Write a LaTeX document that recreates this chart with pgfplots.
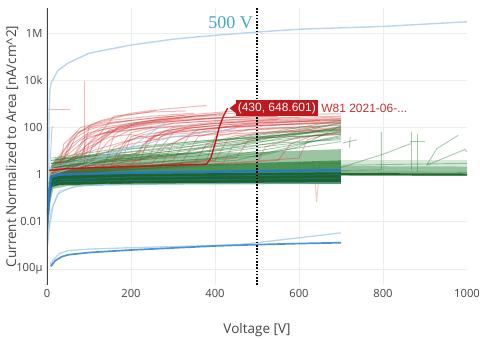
\documentclass[border=0pt]{standalone}
\usepackage{fontspec}
\setmainfont{Open Sans}
\newfontfamily\annfont{Liberation Sans}
\newfontfamily\serfont{Liberation Serif}
\usepackage{pgfplots}
\pgfplotsset{compat=1.18}
\definecolor{pred}{RGB}{205,45,45}
\definecolor{hred}{RGB}{190,25,30}
\definecolor{pgreen}{RGB}{35,125,50}
\definecolor{dgreen}{RGB}{22,95,38}
\definecolor{pblue}{RGB}{35,120,205}
\definecolor{plblue}{RGB}{150,195,235}
\definecolor{tblue}{RGB}{185,213,240}
\definecolor{tealv}{RGB}{70,168,190}
\definecolor{tickgray}{RGB}{68,68,68}
\pgfplotsset{
  rl/.style={color=pred, opacity=0.33, line width=1pt, no markers},
  gl/.style={color=pgreen, opacity=0.4, line width=0.9pt, no markers},
  bl/.style={color=pblue, opacity=0.5, line width=0.8pt, no markers},
  lbl/.style={color=plblue, opacity=0.7, line width=1pt, no markers},
}
\begin{document}
\begin{tikzpicture}
\useasboundingbox (-47pt,-53pt) rectangle (433pt,285pt);
\begin{axis}[
  at={(0,0)}, anchor=south west,
  scale only axis, width=420pt, height=277pt,
  xmin=0, xmax=1000,
  ymode=log, ymin=2.1e-5, ymax=1.15e7,
  axis line style={draw=none},
  xtick={0,200,400,600,800}, extra x ticks={1000},
  extra x tick style={grid=none},
  ytick={1e-4,1e-2,1,100,1e4,1e6},
  yticklabels={100µ,0.01,1,100,10k,1M},
  minor tick num=0, yminorticks=false,
  major tick length=0pt,
  grid=major,
  major grid style={color=black!7, line width=0.9pt},
  /pgf/number format/assume math mode=true,
  /pgf/number format/1000 sep={},
  ticklabel style={font=\fontsize{11.2}{13}\selectfont, text=tickgray},
  yticklabel style={xshift=-1pt},
  xticklabel style={yshift=-1pt},
  xlabel={Voltage [V]},
  ylabel={Current Normalized to Area [nA/cm\textasciicircum 2]},
  label style={font=\fontsize{13.5}{15}\selectfont, text=tickgray},
  xlabel style={at={(axis description cs:0.5,0)}, anchor=base, yshift=-48pt},
  ylabel style={at={(axis description cs:-0.0833,0.5)}, anchor=center},
]
% ---- light green band (0-700 V)
\addplot[fill=pgreen, draw=none, fill opacity=0.45] coordinates {(4,0.5)(8,2)(20,5)(100,7)(300,8)(500,9)(700,12)(700,0.4)(300,0.38)(50,0.33)(15,0.25)(6,0.05)(3,0.005)(2,0.001)};
% ---- red curves
\addplot[rl] coordinates {(10,1)(30,3)(60,20)(100,60)(200,150)(300,250)(400,350)};
\addplot[rl] coordinates {(10,1)(50,2)(80,10)(120,50)(200,120)(350,300)(450,400)};
\addplot[rl] coordinates {(20,1.5)(100,3)(150,30)(200,80)(300,150)(500,250)(700,300)};
\addplot[rl] coordinates {(10,0.8)(150,2)(200,5)(250,40)(350,100)(500,160)(700,200)};
\addplot[rl] coordinates {(15,1)(60,5)(90,40)(130,100)(250,200)(350,300)};
\addplot[rl] coordinates {(10,1)(200,3)(260,8)(300,60)(450,120)(650,200)};
\addplot[rl] coordinates {(30,2)(100,10)(150,70)(250,150)(400,250)(550,300)};
\addplot[rl] coordinates {(10,1)(300,4)(340,50)(420,100)(600,150)(700,180)};
\addplot[rl] coordinates {(20,2)(120,20)(170,100)(300,300)(450,500)(560,600)};
\addplot[rl] coordinates {(10,0.7)(80,1)(100,20)(150,60)(250,100)};
\addplot[rl] coordinates {(5,1)(250,3)(280,15)(330,40)(500,90)(700,120)};
\addplot[rl] coordinates {(10,1)(400,4)(430,30)(500,60)(700,100)};
\addplot[rl] coordinates {(10,1.5)(50,8)(70,50)(110,150)(180,300)(280,600)(380,850)};
\addplot[rl] coordinates {(10,1)(180,5)(200,40)(260,90)(400,170)(550,220)};
\addplot[rl] coordinates {(10,1)(450,5)(480,30)(560,60)(700,90)};
\addplot[rl] coordinates {(20,1)(230,10)(260,60)(350,120)(500,200)(700,280)};
\addplot[rl] coordinates {(10,2)(100,5)(200,20)(300,40)(500,60)(700,80)};
\addplot[rl] coordinates {(10,1)(130,2)(160,15)(220,40)(400,70)(650,100)};
\addplot[rl] coordinates {(20,3)(100,15)(150,40)(200,50)(260,30)(300,80)(400,120)};
\addplot[rl] coordinates {(10,1)(350,3)(380,20)(450,45)(600,70)(700,80)};
\addplot[rl] coordinates {(15,2)(40,10)(60,30)(100,80)(150,150)(250,250)(330,330)};
\addplot[rl] coordinates {(10,1)(550,4)(580,20)(640,50)(700,60)};
\addplot[rl] coordinates {(10,1.5)(300,6)(400,20)(500,35)(700,50)};
\addplot[rl] coordinates {(30,1)(80,3)(100,100)(130,150)(200,200)};
\addplot[rl] coordinates {(10,1)(60,1.5)(70,8)(90,30)(140,60)(220,90)(320,120)};
\addplot[rl] coordinates {(10,1)(110,3)(130,30)(170,100)(230,180)(330,260)(420,330)};
\addplot[rl] coordinates {(10,1)(200,2)(230,20)(280,70)(380,140)(500,190)(700,240)};
\addplot[rl] coordinates {(10,2)(50,20)(80,70)(130,200)(200,400)(260,550)};
\addplot[rl] coordinates {(10,1)(500,3)(520,15)(600,40)(700,55)};
\addplot[rl] coordinates {(10,1)(320,3)(360,40)(450,100)(600,140)(700,150)};
\addplot[rl] coordinates {(10,1)(70,2)(90,15)(120,40)(160,300)(250,450)(330,500)};
\addplot[rl] coordinates {(10,1)(150,2)(170,10)(200,60)(300,150)(420,200)(600,260)};
\addplot[rl] coordinates {(10,1)(40,4)(55,30)(80,100)(150,200)(250,300)(350,400)};
\addplot[rl] coordinates {(10,1)(90,2)(110,20)(150,80)(250,160)(400,250)(550,300)};
\addplot[rl] coordinates {(10,1.2)(220,3)(240,30)(300,100)(400,150)(600,200)(700,230)};
\addplot[rl] coordinates {(10,1)(270,2)(300,20)(360,80)(500,150)(700,200)};
\addplot[rl] coordinates {(10,1)(380,4)(400,40)(480,80)(700,130)};
\addplot[rl] coordinates {(10,2)(60,10)(100,40)(200,100)(300,180)(450,280)(600,350)(700,380)};
\addplot[rl] coordinates {(10,1.5)(140,4)(160,50)(200,120)(300,250)(420,400)};
\addplot[rl] coordinates {(10,1)(30,2)(40,20)(70,60)(120,120)(200,200)(300,300)};
\addplot[rl] coordinates {(10,1)(600,5)(620,30)(680,60)(700,70)};
\addplot[rl] coordinates {(10,1)(160,3)(190,25)(230,50)(300,70)(450,110)(700,160)};
\addplot[rl] coordinates {(30,5)(80,30)(130,80)(220,150)(320,220)(450,280)};
\addplot[rl] coordinates {(10,1)(240,5)(270,40)(330,90)(420,130)(520,160)(700,220)};
\addplot[rl] coordinates {(20,2)(70,6)(120,12)(200,30)(300,60)(450,110)(700,170)};
\addplot[rl] coordinates {(10,1)(420,3)(440,15)(520,40)(650,70)};
\addplot[rl] coordinates {(90,3)(90,9000)};
\addplot[rl] coordinates {(0,600)(55,600)};
\addplot[rl, opacity=0.25] coordinates {(600,3)(635,3)(642,0.07)(650,3)(700,3)};
% ---- green curves above band
\addplot[gl] coordinates {(10,2)(200,5)(400,15)(700,60)};
\addplot[gl] coordinates {(10,3)(300,10)(500,30)(700,100)};
\addplot[gl] coordinates {(10,1.5)(400,5)(600,20)(700,40)};
\addplot[gl] coordinates {(10,2)(250,8)(450,20)(700,150)};
\addplot[gl] coordinates {(20,3)(150,10)(350,25)(700,70)};
\addplot[gl] coordinates {(10,2)(500,6)(600,15)(700,120)};
\addplot[gl] coordinates {(10,4)(200,12)(500,40)(700,80)};
\addplot[gl] coordinates {(10,1.2)(300,3)(550,10)(700,25)};
\addplot[gl] coordinates {(10,3)(100,6)(300,15)(500,50)(700,200)};
\addplot[gl] coordinates {(10,2)(350,8)(550,40)(700,90)};
\addplot[gl] coordinates {(10,5)(200,15)(400,30)(700,50)};
\addplot[gl] coordinates {(10,1.5)(450,4)(650,30)(700,45)};
\addplot[gl] coordinates {(10,3)(250,6)(450,12)(600,35)(700,65)};
\addplot[gl] coordinates {(10,2)(150,4)(350,9)(550,22)(700,30)};
\addplot[gl] coordinates {(10,3)(300,12)(500,45)(650,110)(700,160)};
\addplot[gl] coordinates {(10,2)(400,10)(600,50)(700,110)};
\addplot[gl] coordinates {(10,4)(200,9)(400,20)(600,60)(700,75)};
\addplot[gl] coordinates {(10,2.5)(350,6)(550,18)(700,35)};
\addplot[gl] coordinates {(1,0.002)(3,0.05)(8,0.5)(20,0.8)(700,1.0)};
\addplot[gl] coordinates {(1,0.003)(2,0.3)(6,0.8)(100,1.2)(700,1.5)};
% ---- green beyond 700 V
\addplot[fill=pgreen, draw=none, fill opacity=0.18] coordinates {(700,4)(1000,4)(1000,0.9)(700,0.9)};
\addplot[fill=pgreen, draw=none, fill opacity=0.35] coordinates {(700,2.3)(1000,2.2)(1000,0.9)(700,0.9)};
\addplot[gl] coordinates {(700,1.5)(796,1.6)(796,65)};
\addplot[gl] coordinates {(700,2)(805,7.8)(864,20)(867,20)};
\addplot[gl] coordinates {(867,1.5)(867,65)};
\addplot[gl] coordinates {(883,1.3)(883,55)};
\addplot[gl] coordinates {(864,25)(900,25)};
\addplot[gl] coordinates {(904,2.5)(928,12.6)(979,46)};
\addplot[gl] coordinates {(904,2.5)(990,10.7)(995,12)(1000,9)};
\addplot[gl] coordinates {(705,22)(738,30)};
\addplot[gl] coordinates {(720,14)(722,40)};
\addplot[gl] coordinates {(700,1.3)(1000,1.25)};
\addplot[gl] coordinates {(700,2.5)(1000,3)};
\addplot[color=dgreen, opacity=0.9, line width=2.2pt] coordinates {(700,1.05)(1000,1.0)};
% ---- dense core band
\addplot[fill=pgreen, draw=none, fill opacity=0.7] coordinates {(8,1)(50,1.6)(200,2.2)(400,2.8)(700,4)(700,0.42)(200,0.4)(30,0.36)(12,0.3)(6,0.08)(3,0.01)};
\addplot[fill=dgreen, draw=none, fill opacity=0.9] coordinates {(10,0.9)(100,1.05)(400,1.15)(700,1.25)(700,0.43)(200,0.41)(30,0.37)(12,0.3)(6,0.1)};
% ---- blue curves
\addplot[lbl] coordinates {(2,0.001)(5,0.005)(15,0.05)(30,0.2)(80,0.35)(200,0.4)(700,0.45)};
\addplot[lbl] coordinates {(3,0.003)(10,0.03)(25,0.15)(60,0.3)(150,0.4)};
\addplot[lbl] coordinates {(5,1)(8,5)(12,100)(15,110)};
\addplot[lbl] coordinates {(10,1)(100,3)(200,15)(280,150)};
\addplot[lbl] coordinates {(10,2)(150,8)(300,40)(450,90)};
\addplot[bl] coordinates {(2,0.01)(8,0.2)(20,0.6)(200,0.8)(700,1.0)};
\addplot[bl] coordinates {(2,0.005)(10,0.3)(30,0.5)(300,0.6)(700,0.7)};
\addplot[color=pblue, opacity=0.9, line width=2.4pt] coordinates {(2,0.02)(5,0.2)(10,0.8)(30,1.0)(200,1.2)(500,1.4)(700,1.55)};
% ---- top light blue
\addplot[color=tblue, line width=1.4pt] coordinates {(3,0.5)(5,300)(7,4000)(10,8000)(14,1e4)(25,2.5e4)(50,5.3e4)(100,1.4e5)(200,3.1e5)(300,5.5e5)(400,8e5)(500,1.1e6)(600,1.45e6)(800,1.9e6)(1000,3e6)};
% ---- bottom blue
\addplot[color=tblue, line width=1.3pt] coordinates {(8,2e-4)(10,1.5e-4)(15,2.5e-4)(30,4.5e-4)(50,6e-4)(100,7e-4)(200,8e-4)(400,1.0e-3)(460,1.1e-3)(600,2.1e-3)(700,3.4e-3)};
\addplot[color=pblue!80!white, line width=1.7pt] coordinates {(9,1.3e-4)(12,1.5e-4)(20,2.3e-4)(35,3.3e-4)(50,4e-4)(100,5e-4)(200,6.4e-4)(300,7.8e-4)(400,9.5e-4)(500,1.08e-3)(600,1.2e-3)(700,1.3e-3)};
% ---- highlighted curve
\addplot[color=hred, line width=1.4pt] coordinates {(5,1.5)(50,1.8)(200,2.2)(380,2.8)(390,5)(400,20)(410,100)(420,300)(430,648.601)};
% ---- 500 V marker
\addplot[color=black, line width=1.6pt, dash pattern=on 1.6pt off 1.6pt] coordinates {(500,2.1e-5)(500,1.15e7)};
\node[anchor=base east, text=tealv, font=\serfont\fontsize{18}{20}\selectfont, inner sep=0pt, xshift=-4pt] at (axis cs:500,1.63e6) {500 V};
% ---- annotation
\fill[hred] ([xshift=2pt]axis cs:430,648.601) -- ([xshift=8.5pt,yshift=5pt]axis cs:430,648.601) -- ([xshift=8.5pt,yshift=-5pt]axis cs:430,648.601) -- cycle;
\node[anchor=west, fill=hred, text=white, font=\annfont\fontsize{12}{14}\selectfont, inner xsep=2pt, inner ysep=2.5pt, xshift=8pt] (ann) at (axis cs:430,648.601) {(430, 648.601)};
\node[anchor=west, text=pred, font=\annfont\fontsize{12}{14}\selectfont, inner sep=0pt, xshift=3pt] at (ann.east) {W81 2021-06-...};
% ---- y axis line
\draw[color=tickgray, line width=1.5pt] (rel axis cs:0,0) -- (rel axis cs:0,1);
\end{axis}
\end{tikzpicture}
\end{document}
